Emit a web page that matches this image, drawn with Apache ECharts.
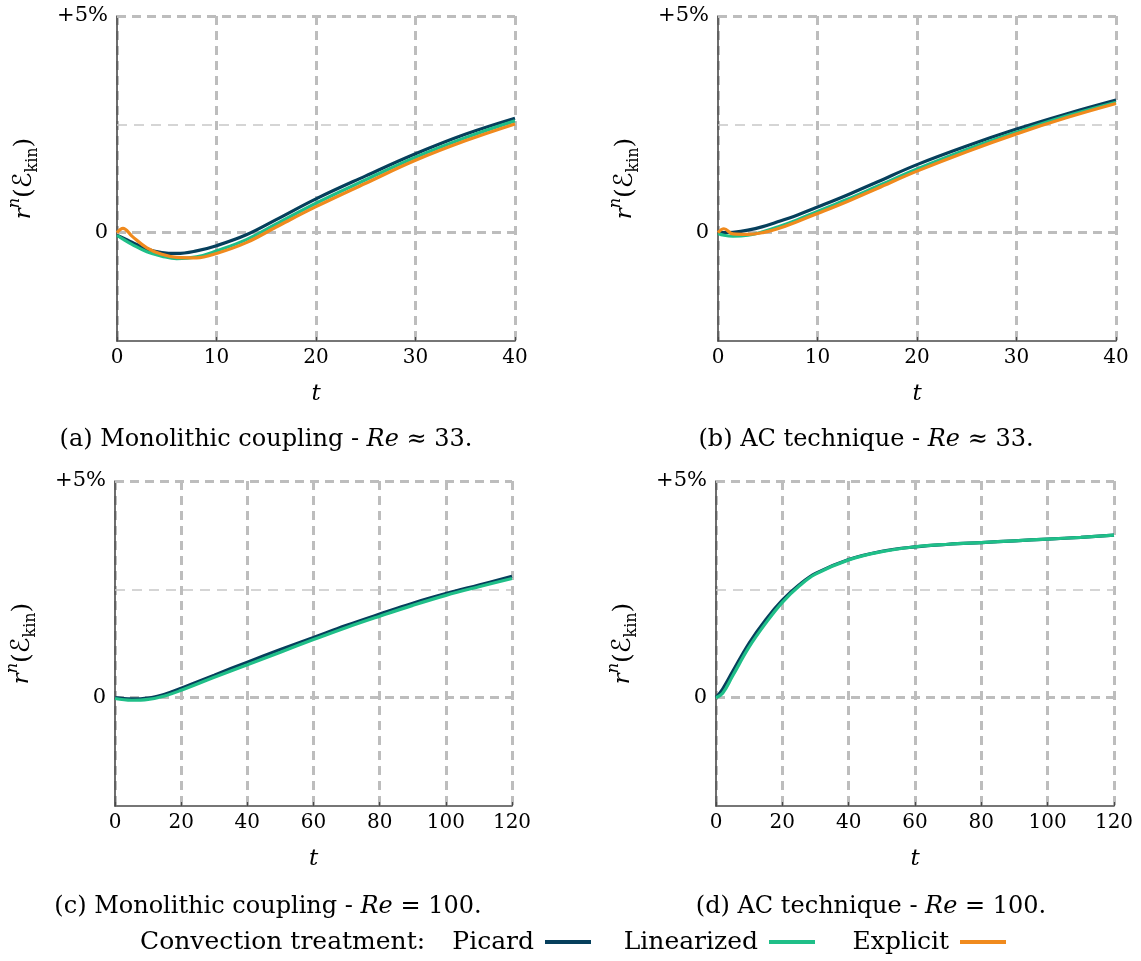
<!DOCTYPE html>
<html>
<head>
<meta charset="utf-8">
<script src="https://cdn.jsdelivr.net/npm/echarts@6/dist/echarts.min.js"></script>
<style>
html,body{margin:0;padding:0;background:#fff;}
#chart{width:1141px;height:961px;}
</style>
</head>
<body>
<div id="chart"></div>
<script>
// ---------- data ----------
const seriesNames = ['Picard', 'Linearized', 'Explicit'];
const seriesColors = ['#063f5c', '#1fbf88', '#f08a1d'];

// (a) Monolithic coupling, Re ~ 33
const tA = [0, 0.6, 1.5, 3, 4.5, 6, 8, 10, 13, 16, 20, 25, 30, 35, 40];
const aPicard     = [-0.06, -0.12, -0.22, -0.38, -0.46, -0.48, -0.42, -0.30, -0.05, 0.30, 0.78, 1.31, 1.82, 2.27, 2.64];
const aLinearized = [-0.06, -0.15, -0.27, -0.44, -0.54, -0.60, -0.56, -0.42, -0.16, 0.20, 0.68, 1.22, 1.74, 2.19, 2.58];
const aExplicit   = [0.00, 0.10, -0.08, -0.35, -0.50, -0.57, -0.58, -0.48, -0.23, 0.13, 0.60, 1.14, 1.67, 2.12, 2.51];

// (b) AC technique, Re ~ 33
const tB = [0, 0.6, 1.5, 3, 4.5, 6, 8, 10, 13, 16, 20, 25, 30, 35, 40];
const bPicard     = [0.00, 0.00, 0.01, 0.06, 0.14, 0.25, 0.41, 0.59, 0.87, 1.17, 1.57, 2.00, 2.39, 2.74, 3.06];
const bLinearized = [-0.02, -0.06, -0.08, -0.06, 0.02, 0.13, 0.30, 0.49, 0.77, 1.07, 1.47, 1.92, 2.32, 2.69, 3.01];
const bExplicit   = [0.00, 0.09, -0.03, -0.04, 0.00, 0.09, 0.26, 0.44, 0.72, 1.02, 1.42, 1.87, 2.28, 2.65, 2.98];

// (c) Monolithic coupling, Re = 100
const tC = [0, 5, 10, 15, 20, 30, 40, 50, 60, 70, 80, 90, 100, 110, 120];
const cPicard     = [0.00, -0.03, -0.01, 0.08, 0.22, 0.52, 0.82, 1.11, 1.39, 1.67, 1.93, 2.18, 2.40, 2.60, 2.80];
const cLinearized = [-0.02, -0.06, -0.04, 0.04, 0.17, 0.47, 0.76, 1.05, 1.34, 1.62, 1.88, 2.13, 2.36, 2.56, 2.75];

// (d) AC technique, Re = 100
const tD = [0, 2, 5, 10, 15, 20, 25, 30, 40, 50, 60, 70, 80, 90, 100, 110, 120];
const dPicard     = [0.00, 0.20, 0.60, 1.26, 1.80, 2.25, 2.60, 2.87, 3.19, 3.38, 3.48, 3.54, 3.58, 3.62, 3.66, 3.70, 3.75];
const dLinearized = [0.00, 0.10, 0.50, 1.17, 1.72, 2.20, 2.57, 2.85, 3.18, 3.37, 3.48, 3.54, 3.58, 3.62, 3.66, 3.70, 3.75];

const yTickLabels = {'0': '0', '5': '+5%'};
const captions = [
  '(a) Monolithic coupling - {i|Re} ≈ 33.',
  '(b) AC technique - {i|Re} ≈ 33.',
  '(c) Monolithic coupling - {i|Re} = 100.',
  '(d) AC technique - {i|Re} = 100.'
];
const legendTitle = 'Convection treatment:';

// ---------- chart ----------
const FONT = 'DejaVu Serif';
const chart = echarts.init(document.getElementById('chart'), null, {renderer: 'canvas'});

const grids = [
  {left: 117, right: 1141 - 515, top: 16, bottom: 961 - 341},
  {left: 718, right: 1141 - 1116, top: 16, bottom: 961 - 341},
  {left: 115, right: 1141 - 512, top: 481, bottom: 961 - 806},
  {left: 716, right: 1141 - 1114, top: 481, bottom: 961 - 806}
];
const xMax = [40, 40, 120, 120];
const xInt = [10, 10, 20, 20];

const gridDash = {color: '#bdbdbd', width: 3, type: [9, 6]};

const xAxes = grids.map((g, i) => ({
  type: 'value', gridIndex: i, min: 0, max: xMax[i], interval: xInt[i],
  name: 't', nameLocation: 'middle', nameGap: 42,
  nameTextStyle: {fontFamily: FONT, fontStyle: 'italic', fontSize: 23, color: '#000'},
  axisLine: {show: true, onZero: false, lineStyle: {color: '#4a4a4a', width: 1.6}},
  axisTick: {show: true, inside: true, length: 4, lineStyle: {color: '#4a4a4a', width: 1.2}},
  axisLabel: {fontFamily: FONT, fontSize: 20, color: '#000', margin: 7},
  splitLine: {show: true, lineStyle: gridDash}
}));

const yAxes = grids.map((g, i) => ({
  type: 'value', gridIndex: i, min: -2.5, max: 5, interval: 2.5,
  name: '{r|r}{sup|n}{p|(}{e|ℰ}{sub|kin}{p|)}',
  nameLocation: 'middle', nameRotate: 90, nameGap: 76,
  nameTextStyle: {
    fontFamily: FONT, fontSize: 23, color: '#000',
    rich: {
      r: {fontFamily: FONT, fontStyle: 'italic', fontSize: 23, color: '#000', lineHeight: 34},
      sup: {fontFamily: FONT, fontStyle: 'italic', fontSize: 16, color: '#000', verticalAlign: 'top', lineHeight: 34},
      p: {fontFamily: FONT, fontSize: 25, color: '#000', lineHeight: 34},
      e: {fontFamily: 'DejaVu Sans', fontSize: 26, color: '#000', lineHeight: 34},
      sub: {fontFamily: FONT, fontSize: 16, color: '#000', verticalAlign: 'bottom', lineHeight: 34}
    }
  },
  axisLine: {show: true, onZero: false, lineStyle: {color: '#4a4a4a', width: 1.6}},
  axisTick: {show: false},
  axisLabel: {
    fontFamily: FONT, fontSize: 21, color: '#000', margin: 9,
    formatter: v => (yTickLabels[String(v)] !== undefined ? yTickLabels[String(v)] : '')
  },
  splitLine: {show: false}
}));

function mk(ts, ys) { return ts.map((t, k) => [t, ys[k]]); }

const panelData = [
  [aPicard, aLinearized, aExplicit].map(v => mk(tA, v)),
  [bPicard, bLinearized, bExplicit].map(v => mk(tB, v)),
  [cPicard, cLinearized].map(v => mk(tC, v)),
  [dPicard, dLinearized].map(v => mk(tD, v))
];

const series = [];
panelData.forEach((lines, i) => {
  // horizontal grid lines
  series.push({
    type: 'line', xAxisIndex: i, yAxisIndex: i, data: [], silent: true, z: 1,
    markLine: {
      silent: true, symbol: ['none', 'none'], label: {show: false}, z: 1,
      animation: false,
      data: [
        {yAxis: 0, lineStyle: gridDash},
        {yAxis: 5, lineStyle: gridDash},
        {yAxis: 2.5, lineStyle: {color: '#c8c8c8', width: 1.5, type: [10, 7]}}
      ]
    }
  });
  lines.forEach((d, k) => {
    series.push({
      name: seriesNames[k], type: 'line', xAxisIndex: i, yAxisIndex: i,
      data: d, smooth: 0.4, symbol: 'none', showSymbol: false, z: 3,
      color: seriesColors[k],
      lineStyle: {width: 3.2, color: seriesColors[k]}
    });
  });
});

const legendRight = [1141 - 591, 1141 - 815, 1141 - 1006];
const legends = seriesNames.map((n, k) => ({
  data: [n], right: legendRight[k], top: 928, padding: 0, align: 'right',
  icon: 'rect', itemWidth: 46, itemHeight: 4, selectedMode: false,
  textStyle: {fontFamily: FONT, fontSize: 25, color: '#000', lineHeight: 28, padding: [0, 6, 0, 0]}
}));

const capPos = [[266, 440], [866, 440], [268, 907], [871, 907]];
const graphics = captions.map((c, i) => ({
  type: 'text', x: capPos[i][0], y: capPos[i][1],
  style: {
    text: c, fill: '#000', fontFamily: FONT, fontSize: 24,
    align: 'center', verticalAlign: 'middle',
    rich: {i: {fontFamily: FONT, fontStyle: 'italic', fontSize: 24, fill: '#000'}}
  }
}));
graphics.push({
  type: 'text', x: 140, y: 942,
  style: {text: legendTitle, fill: '#000', fontFamily: FONT, fontSize: 25, align: 'left', verticalAlign: 'middle'}
});

chart.setOption({
  backgroundColor: '#fff',
  animation: false,
  grid: grids.map(g => Object.assign({containLabel: false}, g)),
  xAxis: xAxes,
  yAxis: yAxes,
  legend: legends,
  series: series,
  graphic: graphics
});
</script>
</body>
</html>
